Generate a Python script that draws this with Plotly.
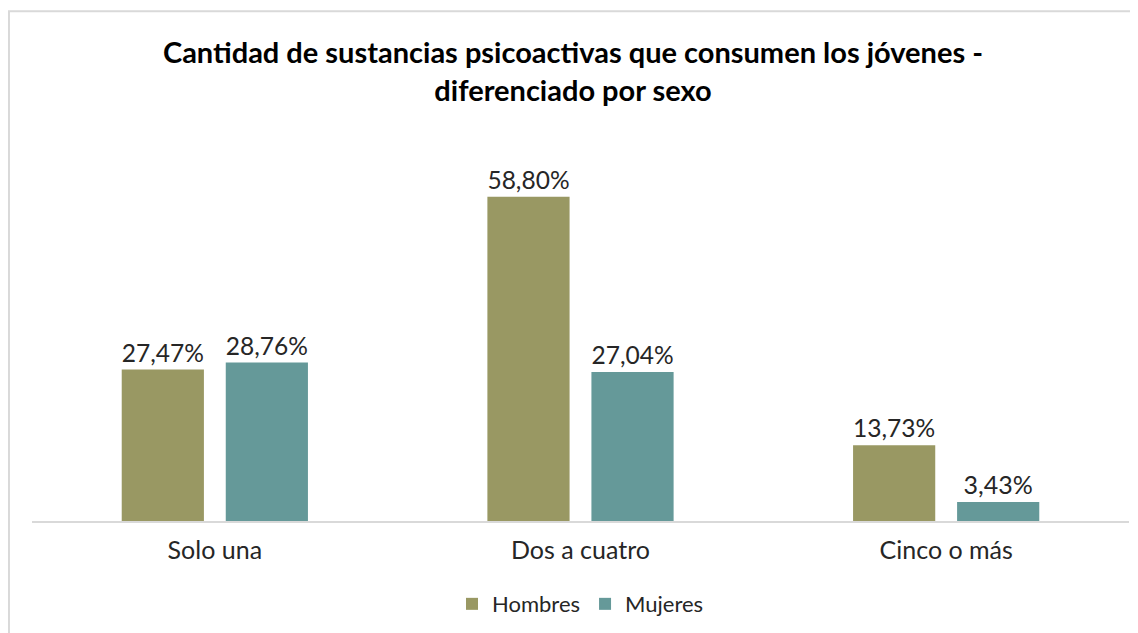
import plotly.graph_objects as go

# datos del gráfico
categorias = ["Solo una", "Dos a cuatro", "Cinco o más"]
hombres = [27.47, 58.80, 13.73]
mujeres = [28.76, 27.04, 3.43]


def etiqueta(v):
    return f"{v:.2f}%".replace(".", ",")


fig = go.Figure()
fig.add_trace(go.Bar(
    x=categorias, y=hombres, name="Hombres",
    marker=dict(color="#999863", line=dict(width=0)),
    text=[etiqueta(v) for v in hombres], textposition="outside",
    cliponaxis=False,
))
fig.add_trace(go.Bar(
    x=categorias, y=mujeres, name="Mujeres",
    marker=dict(color="#659999", line=dict(width=0)),
    text=[etiqueta(v) for v in mujeres], textposition="outside",
    cliponaxis=False,
))

# marco gris del gráfico
fig.add_shape(type="rect", xref="paper", yref="paper",
              x0=-0.0210, x1=1.05, y0=-0.4, y1=1.3204,
              line=dict(color="#d9d9d9", width=2), fillcolor="rgba(0,0,0,0)")

fig.update_layout(
    width=1130, height=625,
    margin=dict(l=24, r=9, t=127, b=111),
    paper_bgcolor="white", plot_bgcolor="white",
    font=dict(family="Lato, Open Sans, sans-serif", size=23, color="#262626"),
    title=dict(
        text="<b>Cantidad de sustancias psicoactivas que consumen los jóvenes -<br>diferenciado por sexo</b>",
        x=0.5, xanchor="center", y=0.912, yanchor="middle",
        font=dict(size=29, color="#000000"),
    ),
    barmode="group", bargap=0.431, bargroupgap=0.21,
    legend=dict(orientation="h", x=0.5, xanchor="center", y=-0.212, yanchor="middle",
                font=dict(size=22, color="#262626"), itemwidth=30),
    showlegend=True,
)
fig.update_traces(textfont=dict(size=25, color="#262626"))
fig.update_xaxes(showline=True, linecolor="#d9d9d9", linewidth=2, ticks="",
                 tickfont=dict(size=25, color="#262626"), showgrid=False,
                 ticklabelstandoff=6)
fig.update_yaxes(visible=False, range=[0, 70])

fig.write_html("out.html")
